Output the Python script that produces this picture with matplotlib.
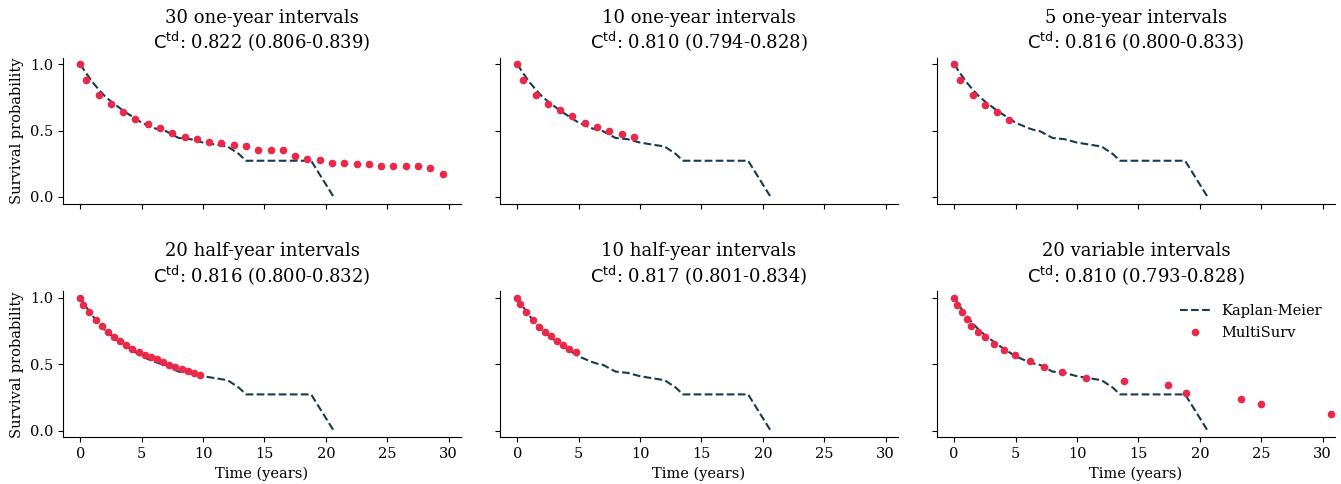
import numpy as np
import matplotlib
matplotlib.use('Agg')
from matplotlib import pyplot as plt

plt.rcParams['font.family'] = 'DejaVu Serif'
plt.rcParams['mathtext.fontset'] = 'dejavusans'

# Kaplan-Meier curve (same in every panel)
km_time = [0, 0.5, 1, 1.5, 2, 2.5, 3, 3.5, 4, 4.5, 5, 5.5, 6, 6.5, 7, 7.5, 8, 9, 10, 11, 12, 12.9, 13.5, 18.8, 20.6]
km_surv = [1.0, 0.93, 0.865, 0.81, 0.76, 0.72, 0.685, 0.65, 0.62, 0.59, 0.56, 0.54, 0.52, 0.505, 0.495, 0.47, 0.445, 0.435, 0.41, 0.395, 0.38, 0.325, 0.273, 0.273, 0.005]

titles = ['30 one-year intervals', '10 one-year intervals', '5 one-year intervals',
          '20 half-year intervals', '10 half-year intervals', '20 variable intervals']
ctd = ['0.822 (0.806-0.839)', '0.810 (0.794-0.828)', '0.816 (0.800-0.833)',
       '0.816 (0.800-0.832)', '0.817 (0.801-0.834)', '0.810 (0.793-0.828)']

# MultiSurv predictions
t_30y = [0] + [i + 0.5 for i in range(30)]
s_30y = [1.0, 0.885, 0.77, 0.697, 0.64, 0.584, 0.549, 0.519, 0.481, 0.451, 0.434, 0.416, 0.409, 0.393, 0.381,
         0.351, 0.351, 0.351, 0.308, 0.283, 0.278, 0.256, 0.256, 0.246, 0.246, 0.231, 0.231, 0.231, 0.231, 0.216, 0.170]
t_10y = [0] + [i + 0.5 for i in range(10)]
s_10y = [1.0, 0.882, 0.769, 0.702, 0.659, 0.607, 0.561, 0.524, 0.494, 0.471, 0.451]
t_5y = [0] + [i + 0.5 for i in range(5)]
s_5y = [1.0, 0.885, 0.77, 0.695, 0.638, 0.58]
t_20h = [0] + [i * 0.5 + 0.25 for i in range(20)]
s_20h = [1.0, 0.947, 0.89, 0.83, 0.785, 0.744, 0.709, 0.677, 0.647, 0.617, 0.591, 0.571, 0.554, 0.536,
         0.516, 0.496, 0.479, 0.466, 0.449, 0.434, 0.421]
t_10h = [0] + [i * 0.5 + 0.25 for i in range(10)]
s_10h = [1.0, 0.952, 0.89, 0.832, 0.782, 0.742, 0.712, 0.679, 0.647, 0.617, 0.591]
t_var = [0, 0.25, 0.66, 1.01, 1.39, 1.94, 2.51, 3.28, 4.02, 4.92, 6.17, 7.35, 8.74, 10.77, 13.83, 17.38,
         18.85, 23.39, 25.0, 30.71]
s_var = [1.0, 0.945, 0.89, 0.84, 0.79, 0.744, 0.702, 0.654, 0.609, 0.569, 0.526, 0.481, 0.444, 0.398,
         0.373, 0.343, 0.281, 0.236, 0.201, 0.125]

times = [t_30y, t_10y, t_5y, t_20h, t_10h, t_var]
survs = [s_30y, s_10y, s_5y, s_20h, s_10h, s_var]

fig, axes = plt.subplots(2, 3, figsize=(13.41, 4.84), dpi=100, sharex=True, sharey=True)
fig.subplots_adjust(left=0.047, right=0.9955, bottom=0.0965, top=0.881, wspace=0.098, hspace=0.6)

for i, ax in enumerate(axes.flat):
    ax.plot(km_time, km_surv, '--', color='#183a50', lw=1.5, label='Kaplan-Meier')
    ax.plot(times[i], survs[i], 'o', color='#e8294a', ms=5.5, mec='none', label='MultiSurv')
    ax.set_title(titles[i] + '\n' + r'$\mathrm{C^{td}}$: ' + ctd[i], fontsize=13)
    ax.spines['top'].set_visible(False)
    ax.spines['right'].set_visible(False)
    ax.tick_params(labelsize=10.5)
    ax.set_xlim(-1.4, 31.0)
    ax.set_ylim(-0.05, 1.05)
    ax.set_xticks([0, 5, 10, 15, 20, 25, 30])
    ax.set_yticks([0.0, 0.5, 1.0])
    if i % 3 == 0:
        ax.set_ylabel('Survival probability', fontsize=10.5)
    if i >= 3:
        ax.set_xlabel('Time (years)', fontsize=10.5)

axes[1, 2].legend(frameon=False, loc='upper right', fontsize=10.5)

plt.savefig('out.png', dpi=100)
